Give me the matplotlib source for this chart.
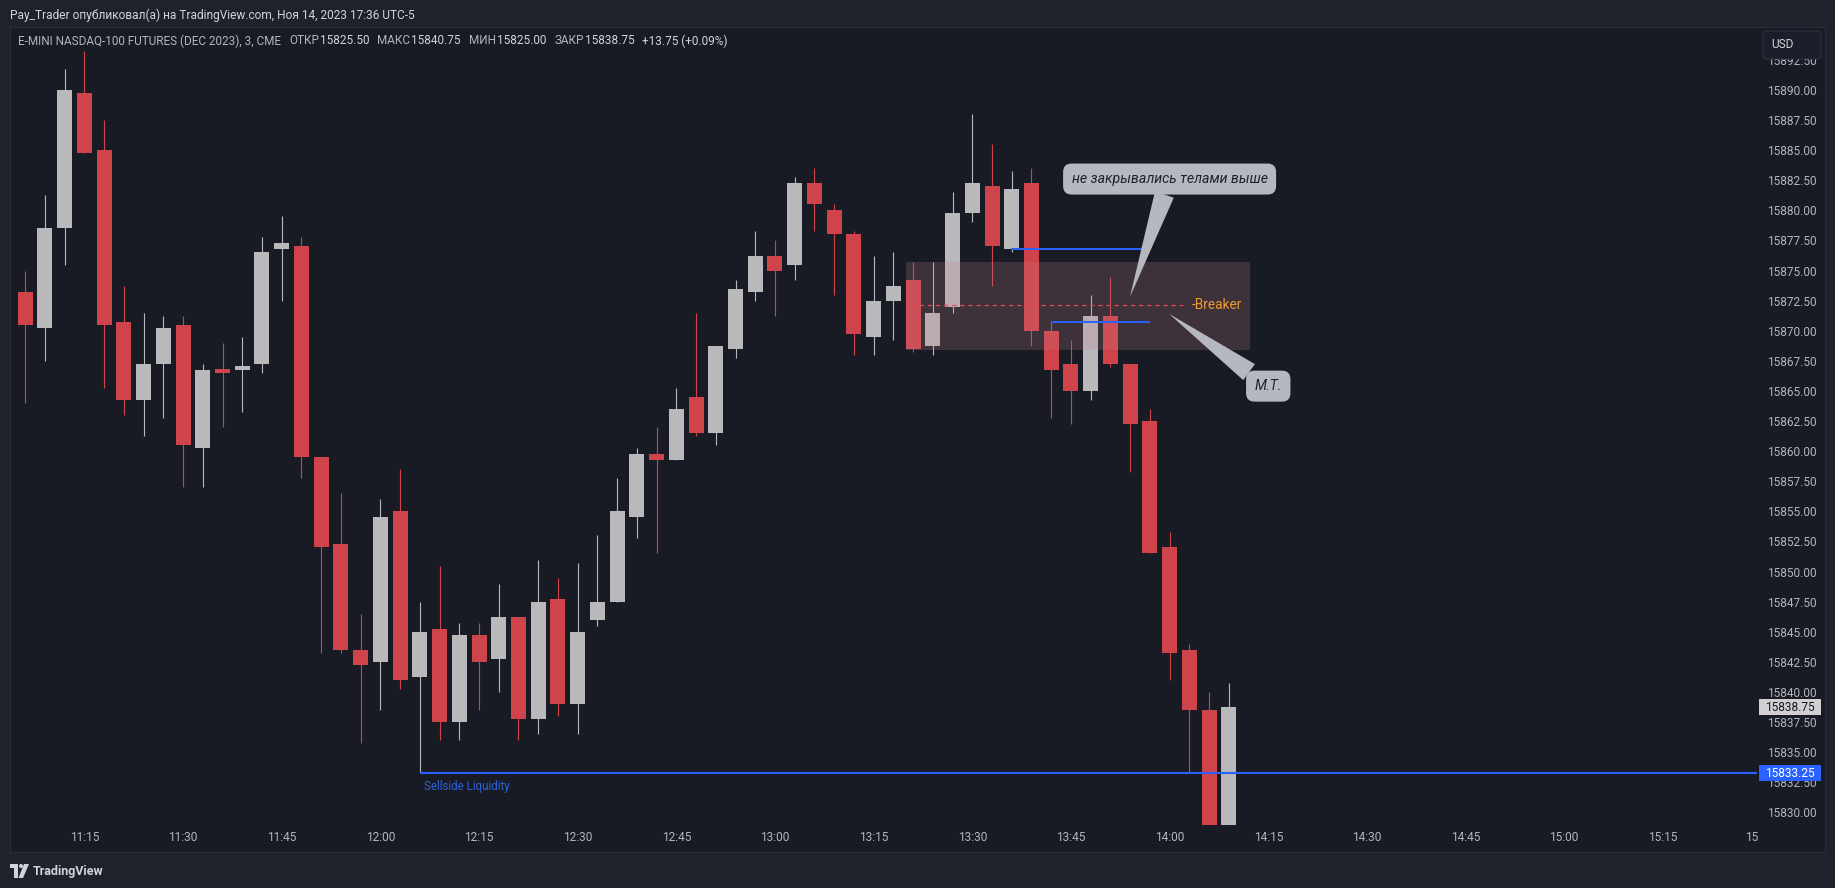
import numpy as np
import matplotlib.pyplot as plt
from matplotlib.patches import Rectangle, FancyBboxPatch, Polygon, Circle
from matplotlib import transforms

W, H = 1835, 888

# 3-мин свечи NQ, первая свеча 11:06
opens = [15873.25, 15870.25, 15878.5, 15889.75, 15885.0, 15870.75, 15864.25, 15867.25, 15870.5, 15860.25,
         15866.75, 15866.75, 15867.25, 15876.75, 15877.0, 15859.5, 15852.25, 15843.5, 15842.5, 15855.0,
         15841.25, 15845.25, 15837.5, 15844.75, 15842.75, 15846.25, 15837.75, 15847.75, 15839.0, 15846.0,
         15847.5, 15854.5, 15859.75, 15859.25, 15864.5, 15861.5, 15868.5, 15873.25, 15876.25, 15875.5,
         15882.25, 15880.0, 15878.0, 15869.5, 15872.5, 15874.25, 15868.75, 15872.0, 15879.75, 15882.0,
         15876.75, 15882.25, 15870.0, 15867.25, 15865.0, 15871.25, 15867.25, 15862.5, 15852.0, 15843.5,
         15838.5, 15825.5]
highs = [15875.0, 15881.25, 15891.75, 15893.25, 15887.5, 15873.75, 15871.5, 15871.25, 15871.25, 15867.25,
         15869.0, 15869.5, 15877.75, 15879.5, 15877.75, 15859.5, 15856.5, 15846.5, 15856.0, 15858.5,
         15847.5, 15850.5, 15845.75, 15845.75, 15849.0, 15846.25, 15851.0, 15849.5, 15850.75, 15853.0,
         15857.75, 15860.25, 15862.0, 15865.25, 15871.5, 15868.75, 15874.25, 15878.25, 15877.5, 15882.75,
         15883.5, 15880.5, 15878.25, 15876.25, 15876.5, 15875.75, 15875.75, 15881.5, 15888.0, 15885.5,
         15883.25, 15883.5, 15870.75, 15869.25, 15873.0, 15874.5, 15867.25, 15863.5, 15853.25, 15844.0,
         15840.0, 15840.75]
lows = [15864.0, 15867.5, 15875.5, 15884.75, 15865.25, 15863.0, 15861.25, 15862.75, 15857.0, 15857.0,
        15862.0, 15863.25, 15866.5, 15872.5, 15857.75, 15843.25, 15843.25, 15835.75, 15838.5, 15840.25,
        15833.25, 15836.0, 15836.0, 15838.5, 15840.0, 15836.0, 15836.5, 15838.0, 15836.5, 15845.5,
        15847.5, 15852.75, 15851.5, 15859.25, 15861.25, 15860.5, 15867.75, 15872.5, 15871.25, 15874.25,
        15878.25, 15873.0, 15868.0, 15868.0, 15869.25, 15868.25, 15868.0, 15871.5, 15879.0, 15873.75,
        15876.5, 15868.75, 15862.75, 15862.25, 15864.25, 15867.0, 15858.25, 15851.5, 15841.0, 15833.25,
        15825.0, 15825.0]
closes = [15870.5, 15878.5, 15890.0, 15884.75, 15870.5, 15864.25, 15867.25, 15870.25, 15860.5, 15866.75,
          15866.5, 15867.0, 15876.5, 15877.25, 15859.5, 15852.0, 15843.5, 15842.25, 15854.5, 15841.0,
          15845.0, 15837.5, 15844.75, 15842.5, 15846.25, 15837.75, 15847.5, 15839.0, 15845.0, 15847.5,
          15855.0, 15859.75, 15859.25, 15863.5, 15861.5, 15868.75, 15873.5, 15876.25, 15875.0, 15882.25,
          15880.5, 15878.0, 15869.75, 15872.5, 15873.75, 15868.5, 15871.5, 15879.75, 15882.25, 15877.0,
          15881.75, 15870.0, 15866.75, 15865.0, 15871.25, 15867.25, 15862.25, 15851.5, 15843.25, 15838.5,
          15825.0, 15838.75]

time_ticks = [3, 8, 13, 18, 23, 28, 33, 38, 43, 48, 53, 58, 63, 68, 73, 78, 83, 87.5]
time_labels = ['11:15', '11:30', '11:45', '12:00', '12:15', '12:30', '12:45', '13:00', '13:15',
               '13:30', '13:45', '14:00', '14:15', '14:30', '14:45', '15:00', '15:15', '15']
price_ticks = np.arange(15830, 15893, 2.5)

# разметка автора
sellside = (20, 15833.25)
breaker_zone = (44.62, 62.07, 15868.4, 15875.7)
breaker_level = (44.9, 58.7, 15872.1)
blue_levels = [(49.96, 56.76, 15876.75), (51.97, 57.0, 15870.75)]

plt.rcParams['font.family'] = ['Roboto', 'DejaVu Sans']

BG_OUT = '#1f222a'
BG_PANE = '#181b24'
RED = '#cf434a'
GRAY = '#b9b8bb'
BLUE = '#2962ff'
TXT = '#b2b5be'
BRIGHT = '#d1d4dc'


def fx(px):
    return px / W


def fy(py):
    return 1 - py / H


fig = plt.figure(figsize=(W / 100, H / 100), dpi=100, facecolor=BG_OUT)
fig.add_artist(Rectangle((fx(10), fy(852)), fx(1825) - fx(10), fy(27) - fy(852),
                         transform=fig.transFigure, fc=BG_PANE, ec='#2a2e39', lw=0.8, zorder=-1))

ax = fig.add_axes([fx(11), fy(825), fx(1757) - fx(11), fy(30) - fy(825)])
ax.set_facecolor('none')

o = np.array(opens)
c = np.array(closes)
x = np.arange(len(o))
cols = np.where(c >= o, GRAY, RED)
ax.vlines(x, lows, highs, colors=cols, lw=0.8, zorder=2)
ax.bar(x, np.maximum(np.abs(c - o), 0.3), width=0.76, bottom=np.minimum(o, c),
       color=cols, zorder=2)

ax.set_xlim(-0.72, 87.77)
ax.set_ylim(15828.95, 15894.98)
for s in ax.spines.values():
    s.set_visible(False)

ax.set_xticks(time_ticks)
ax.set_xticklabels(time_labels)
ax.tick_params(axis='x', length=0, pad=4, colors=TXT, labelsize=8.6)
ax.yaxis.tick_right()
ax.set_yticks(price_ticks)
ax.set_yticklabels([f'{p:.2f}' for p in price_ticks])
ax.tick_params(axis='y', length=0, pad=7.5, colors=TXT, labelsize=8.6)

# Sellside Liquidity
ax.hlines(sellside[1], sellside[0], 87.77, color=BLUE, lw=1.5, zorder=4)
ax.text(sellside[0] + 0.2, sellside[1] - 0.55, 'Sellside Liquidity', color='#2f62d9',
        fontsize=8.3, va='top', ha='left')

# зона Breaker
x0, x1, y0, y1 = breaker_zone
ax.add_patch(Rectangle((x0, y0), x1 - x0, y1 - y0, fc='#c98390', alpha=0.21, ec='none', zorder=3))
ax.plot([breaker_level[0], breaker_level[1]], [breaker_level[2]] * 2, ls=(0, (3.5, 3)),
        color='#e0475c', lw=0.9, zorder=4)
ax.text(breaker_level[1] + 0.4, breaker_level[2], '-Breaker', color='#ef9a30', fontsize=9.8,
        va='center', ha='left', zorder=5)
for a, b, lvl in blue_levels:
    ax.hlines(lvl, a, b, color=BLUE, lw=1.4, zorder=4)

# выноски
box = dict(boxstyle='round,pad=0.6,rounding_size=0.6', fc='#b5b8bf', ec='none')
arr = dict(arrowstyle='wedge,tail_width=1.4', fc='#b5b8bf', ec='none', shrinkA=0, shrinkB=0)
ax.annotate('не закрывались телами выше', xy=(55.99, 15872.8), xytext=(58.0, 15882.6),
            ha='center', va='center', fontsize=10.2, style='italic', color='#1e222d',
            bbox=box, arrowprops=arr, zorder=6)
ax.annotate('М.Т.', xy=(57.98, 15871.4), xytext=(63.0, 15865.4),
            ha='center', va='center', fontsize=10.2, style='italic', color='#1e222d',
            bbox=box, arrowprops=arr, zorder=6)

# метки цены на шкале
blend = transforms.blended_transform_factory(fig.transFigure, ax.transData)
for price, fc, tc in [(closes[-1], '#d1cfd1', '#131722'), (sellside[1], BLUE, 'white')]:
    ax.add_patch(Rectangle((fx(1759), price - 0.67), fx(1821) - fx(1759), 1.33, transform=blend,
                           fc=fc, ec='none', clip_on=False, zorder=7))
    ax.text(fx(1790), price, f'{price:.2f}', transform=blend, ha='center', va='center',
            color=tc, fontsize=8.6, zorder=8, clip_on=False)

# USD
fig.add_artist(FancyBboxPatch((1763, H - 59), 58, 28, boxstyle='round,pad=0,rounding_size=4',
                              transform=transforms.IdentityTransform(), fc='#1b1e28',
                              ec='#2e3240', lw=0.8, zorder=5))
fig.text(fx(1782), fy(45), 'USD', ha='center', va='center', color=BRIGHT, fontsize=8.6, zorder=6)

# заголовки
fig.text(fx(10), fy(15), 'Pay_Trader опубликовал(а) на TradingView.com, Ноя 14, 2023 17:36 UTC-5',
         ha='left', va='center', color=BRIGHT, fontsize=8.6)

chg = closes[-1] - closes[-2]
pieces = [('E-MINI NASDAQ-100 FUTURES (DEC 2023), 3, CME', TXT, 8),
          ('ОТКР', TXT, 1), (f'{opens[-1]:.2f}', BRIGHT, 8),
          ('МАКС', TXT, 1), (f'{highs[-1]:.2f}', BRIGHT, 8),
          ('МИН', TXT, 1), (f'{lows[-1]:.2f}', BRIGHT, 8),
          ('ЗАКР', TXT, 1), (f'{closes[-1]:.2f}', BRIGHT, 8),
          (f'{chg:+.2f} ({chg / closes[-2] * 100:+.2f}%)', BRIGHT, 0)]
renderer = fig.canvas.get_renderer()
cur = 18
for s, col, gap in pieces:
    t = fig.text(fx(cur), fy(41), s, ha='left', va='center', color=col, fontsize=8.5)
    cur += t.get_window_extent(renderer).width + gap

# логотип TradingView
pix = transforms.IdentityTransform()
fig.add_artist(Polygon([(10, H - 864), (18, H - 864), (18, H - 878), (14, H - 878), (14, H - 868),
                        (10, H - 868)], transform=pix, fc=BRIGHT, ec='none'))
fig.add_artist(Circle((21, H - 866), 2, transform=pix, fc=BRIGHT, ec='none'))
fig.add_artist(Polygon([(24, H - 864), (29, H - 864), (23, H - 878), (18.5, H - 878)],
                       transform=pix, fc=BRIGHT, ec='none'))
fig.text(fx(33), fy(871), 'TradingView', ha='left', va='center', color=BRIGHT, fontsize=9,
         weight='semibold')

fig.savefig('out.png', dpi=100, facecolor=fig.get_facecolor())
